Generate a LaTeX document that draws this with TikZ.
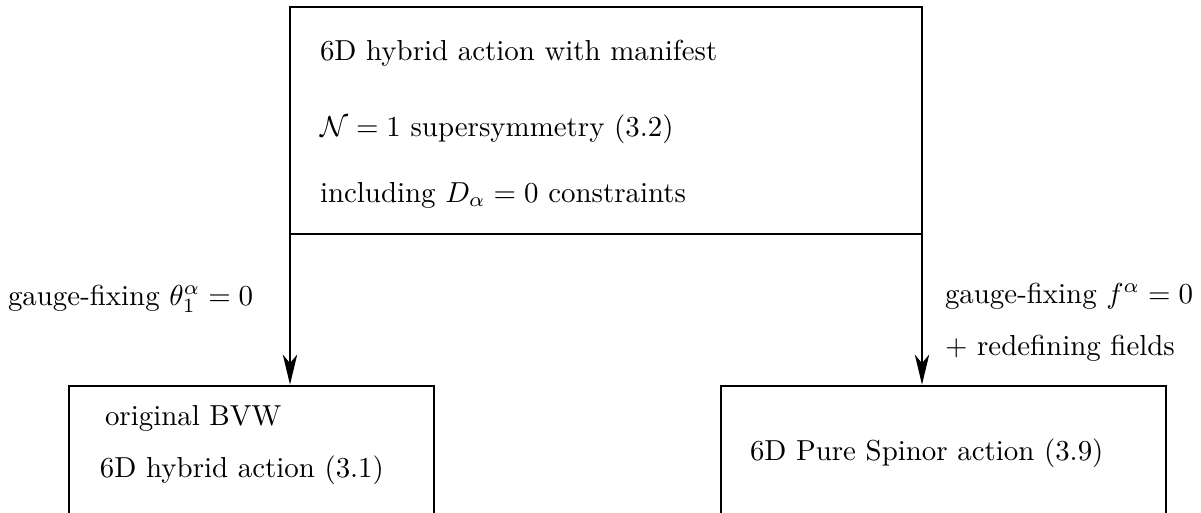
\documentclass[tikz,border=0pt]{standalone}
\usetikzlibrary{arrows.meta}
\begin{document}
\begin{tikzpicture}[x=0.346pt,y=-0.346pt,
  box/.style={draw,line width=0.5pt,rectangle,inner sep=0pt,outer sep=0pt},
  txt/.style={anchor=base west,inner sep=0pt,outer sep=0pt},
  arr/.style={line width=0.4pt,-{Stealth[length=10.4pt,width=5pt,inset=3pt]}}]
\useasboundingbox (0,0) rectangle (1201,512);
\clip (0,0) rectangle (1201,512);
\node[box,minimum width=218.67pt,minimum height=78.54pt] (top) at (606,120.5) {};
\node[box,minimum width=126.29pt,minimum height=55.36pt] (lbox) at (251.5,466) {};
\node[box,minimum width=153.97pt,minimum height=55.36pt] (rbox) at (943.5,466) {};
\node[txt] (t1) at (320,60) {6D hybrid action with manifest};
\node[txt] (t2) at (320,136) {$\mathcal{N}=1$ supersymmetry (3.2)};
\node[txt] (t3) at (320,202) {including $D_\alpha=0$ constraints};
\node[txt] (l1) at (105,425) {original BVW};
\node[txt] (l2) at (100,477) {6D hybrid action (3.1)};
\node[txt] (r1) at (750,460) {6D Pure Spinor action (3.9)};
\node[txt] (gl) at (8,305) {gauge-fixing $\theta^\alpha_1=0$};
\node[txt] (gr1) at (945,303) {gauge-fixing $f^\alpha=0$};
\node[txt] (gr2) at (945,355) {$+$ redefining fields};
\draw[arr] (top.south west) -- ([yshift=0.5pt]top.south west |- lbox.north);
\draw[arr] (top.south east) -- ([yshift=0.5pt]top.south east |- rbox.north);
\end{tikzpicture}
\end{document}
